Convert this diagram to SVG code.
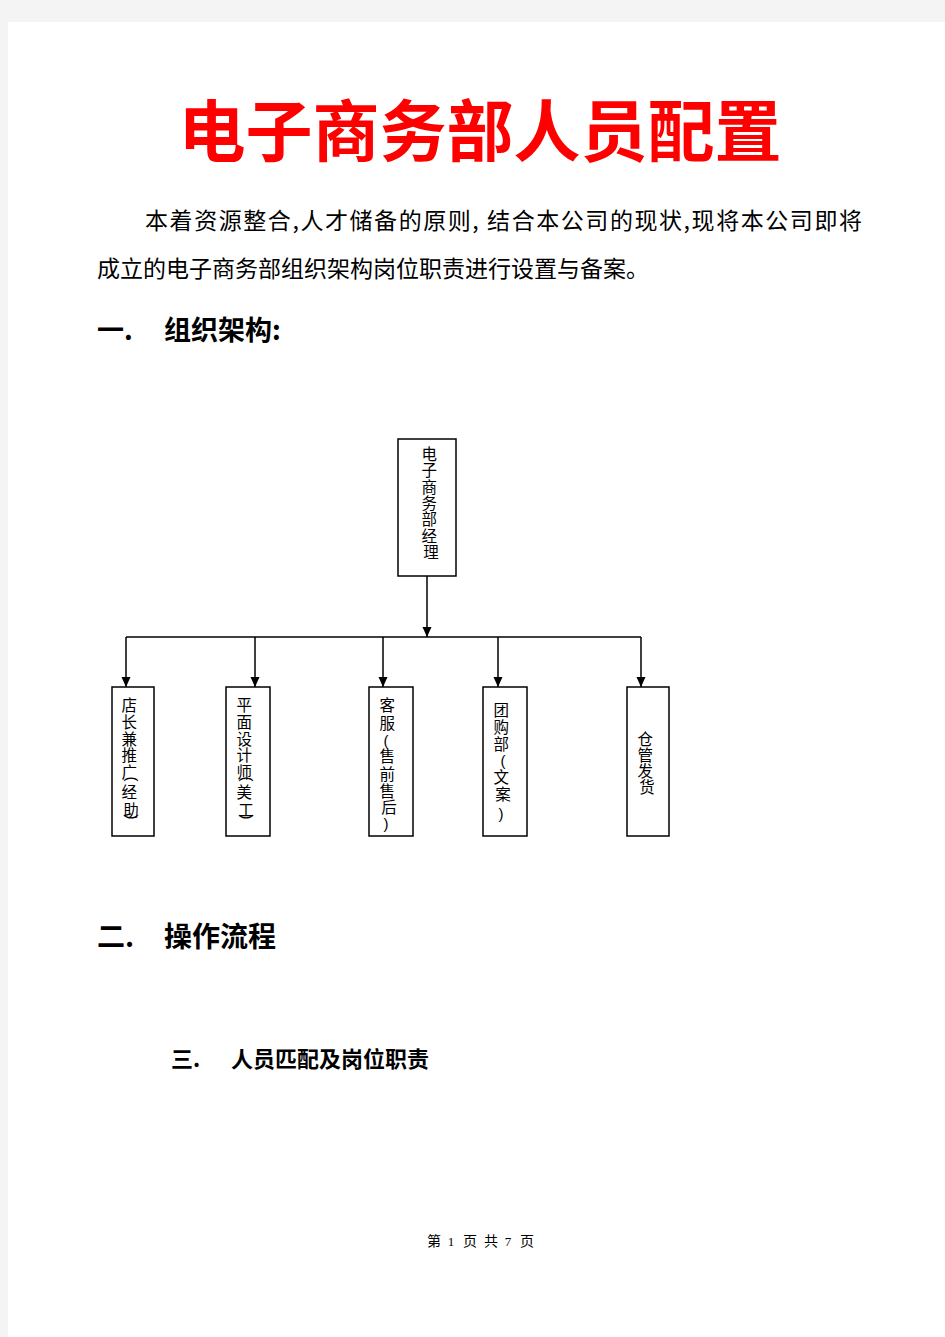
<svg xmlns="http://www.w3.org/2000/svg" width="945" height="1337" viewBox="0 0 945 1337">
<defs>
<style>
.box{fill:#fff;stroke:#000;stroke-width:1.5}
.bt{font-family:"Noto Sans CJK SC",sans-serif;font-size:15.5px;fill:#000;text-anchor:middle}
.bp{font-family:"Liberation Sans",sans-serif;font-size:15px;fill:#000;text-anchor:middle}
.conn{stroke:#000;stroke-width:1.5;fill:none}
.h{font-family:"Noto Sans CJK SC",sans-serif;font-weight:bold;fill:#000}
.p{font-family:"Noto Sans CJK SC",sans-serif;font-size:23px;fill:#000}
</style>
<marker id="arr" markerUnits="userSpaceOnUse" viewBox="0 0 10 10" markerWidth="10" markerHeight="10" refX="10" refY="5" orient="auto">
<path d="M0,0.5 L10,5 L0,9.5 z" fill="#000"/>
</marker>
</defs>
<rect x="0" y="0" width="945" height="1337" fill="#f4f4f4"/>
<rect x="8" y="22" width="937" height="1315" fill="#fff"/>

<text x="480" y="156" font-family="Noto Sans CJK SC,sans-serif" font-weight="bold" font-size="67" fill="#ff0000" text-anchor="middle">电子商务部人员配置</text>

<text class="p" x="145" y="229" textLength="717" lengthAdjust="spacing">本着资源整合,人才储备的原则, 结合本公司的现状,现将本公司即将</text>
<text class="p" x="97" y="277">成立的电子商务部组织架构岗位职责进行设置与备案。</text>

<text class="h" x="97" y="340" font-size="27">一.</text>
<text class="h" x="164" y="340" font-size="27">组织架构:</text>

<text class="h" x="97" y="947" font-size="28">二.</text>
<text class="h" x="164" y="947" font-size="28">操作流程</text>

<text class="h" x="171" y="1067" font-size="22">三.</text>
<text class="h" x="231" y="1067" font-size="22">人员匹配及岗位职责</text>

<g id="connectors">
<line class="conn" x1="427" y1="576" x2="427" y2="637" marker-end="url(#arr)"/>
<line class="conn" x1="126" y1="637" x2="641" y2="637"/>
<line class="conn" x1="126" y1="637" x2="126" y2="687" marker-end="url(#arr)"/>
<line class="conn" x1="255" y1="637" x2="255" y2="687" marker-end="url(#arr)"/>
<line class="conn" x1="383" y1="637" x2="383" y2="687" marker-end="url(#arr)"/>
<line class="conn" x1="498" y1="637" x2="498" y2="687" marker-end="url(#arr)"/>
<line class="conn" x1="641" y1="637" x2="641" y2="687" marker-end="url(#arr)"/>
</g>

<g id="manager">
<rect class="box" x="398" y="439" width="58" height="137"/>
<text class="bt" font-size="15">
<tspan x="431" y="460">电</tspan>
<tspan x="431" y="476.3">子</tspan>
<tspan x="431" y="492.6">商</tspan>
<tspan x="431" y="508.9">务</tspan>
<tspan x="431" y="525.2">部</tspan>
<tspan x="431" y="541.5">经</tspan>
<tspan x="431" y="557.8">理</tspan>
</text>
</g>

<g id="node-shopowner">
<rect class="box" x="112" y="687" width="42" height="149"/>
<text class="bt">
<tspan x="131" y="711">店</tspan>
<tspan x="131" y="728">长</tspan>
<tspan x="131" y="745">兼</tspan>
<tspan x="131" y="761">推</tspan>
<tspan x="131" y="778">广</tspan>
<tspan x="131" y="798">经</tspan>
<tspan x="131" y="816">助</tspan>
</text>
<text class="bp" transform="translate(132,779) rotate(90)" y="5">(</text>
<text class="bp" transform="translate(132,817) rotate(90)" y="5">)</text>
</g>

<g id="node-designer">
<rect class="box" x="226" y="687" width="44" height="149"/>
<text class="bt">
<tspan x="246" y="711">平</tspan>
<tspan x="246" y="728">面</tspan>
<tspan x="246" y="745">设</tspan>
<tspan x="246" y="761">计</tspan>
<tspan x="246" y="778">师</tspan>
<tspan x="246" y="798">美</tspan>
<tspan x="246" y="816">工</tspan>
</text>
<text class="bp" transform="translate(247,779) rotate(90)" y="5">(</text>
<text class="bp" transform="translate(247,817) rotate(90)" y="5">)</text>
</g>

<g id="node-service">
<rect class="box" x="369" y="687" width="44" height="149"/>
<text class="bt">
<tspan x="389" y="711">客</tspan>
<tspan x="389" y="729">服</tspan>
<tspan x="389" y="762">售</tspan>
<tspan x="389" y="780">前</tspan>
<tspan x="389" y="797">售</tspan>
<tspan x="389" y="813">后</tspan>
</text>
<text class="bp"><tspan x="386" y="746">(</tspan><tspan x="386" y="829">)</tspan></text>
</g>

<g id="node-group">
<rect class="box" x="483" y="687" width="44" height="149"/>
<text class="bt">
<tspan x="503" y="716">团</tspan>
<tspan x="503" y="733">购</tspan>
<tspan x="503" y="750">部</tspan>
<tspan x="503" y="783">文</tspan>
<tspan x="503" y="800">案</tspan>
</text>
<text class="bp"><tspan x="503" y="766">(</tspan><tspan x="501" y="819">)</tspan></text>
</g>

<g id="node-warehouse">
<rect class="box" x="627" y="687" width="42" height="149"/>
<text class="bt">
<tspan x="647" y="745">仓</tspan>
<tspan x="647" y="761">管</tspan>
<tspan x="647" y="777">发</tspan>
<tspan x="647" y="793">货</tspan>
</text>
</g>

<g font-family="Noto Sans CJK SC,sans-serif" font-size="14" fill="#000" text-anchor="middle">
<text x="434" y="1246">第</text>
<text x="451" y="1246" font-family="Liberation Serif,serif" font-size="13">1</text>
<text x="470" y="1246">页</text>
<text x="491" y="1246">共</text>
<text x="508" y="1246" font-family="Liberation Serif,serif" font-size="13">7</text>
<text x="527" y="1246">页</text>
</g>
</svg>
